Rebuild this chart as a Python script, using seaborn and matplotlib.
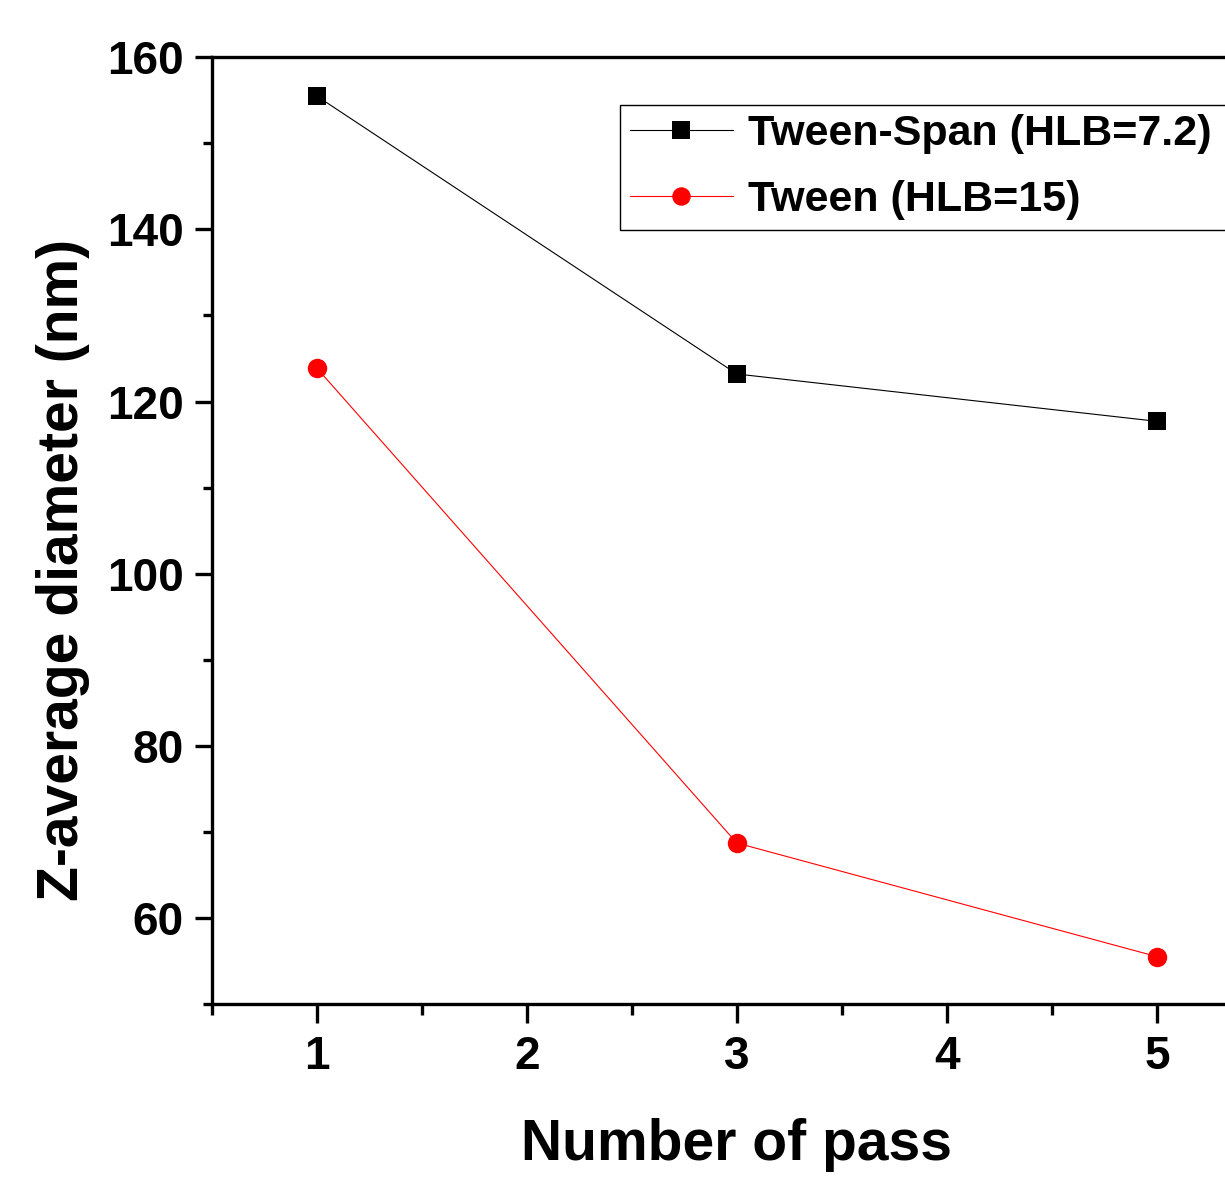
import numpy as np
import pandas as pd
import matplotlib
matplotlib.use("Agg")
import matplotlib.pyplot as plt
import seaborn as sns
from matplotlib import font_manager
from matplotlib.ticker import MultipleLocator

# ---- data ----
passes = [1, 3, 5]
tween_span = [155.5, 123.2, 117.7]
tween = [123.9, 68.7, 55.5]
series_names = ["Tween-Span (HLB=7.2)", "Tween (HLB=15)"]
series_colors = ["black", "red"]
series_markers = ["s", "o"]
x_ticks = [1, 2, 3, 4, 5]
y_ticks = [60, 80, 100, 120, 140, 160]
x_label = "Number of pass"
y_label = "Z-average diameter (nm)"

sns.set_theme(style="ticks")
names = {f.name for f in font_manager.fontManager.ttflist}
if "Liberation Sans Narrow" in names:
    fam = "Liberation Sans Narrow"
    fs_tick, fs_leg, fs_lab = 35, 36, 40
else:
    fam = "Liberation Sans"
    fs_tick, fs_leg, fs_lab = 33, 31, 41
plt.rcParams["font.family"] = [fam, "DejaVu Sans"]
plt.rcParams["font.weight"] = "bold"
plt.rcParams["text.color"] = "black"
plt.rcParams["axes.labelcolor"] = "black"

fig = plt.figure(figsize=(12.25, 11.81), dpi=100)
ax = fig.add_axes([0.1728, 0.1499, 0.8574, 0.8016])

df = pd.DataFrame({
    "pass": passes * 2,
    "diam": tween_span + tween,
    "series": [series_names[0]] * 3 + [series_names[1]] * 3,
})

for name, col, mk, ms in zip(series_names, series_colors, series_markers, [13, 14]):
    sub = df[df["series"] == name]
    sns.lineplot(data=sub, x="pass", y="diam", ax=ax, color=col, marker=mk,
                 markersize=ms, markeredgecolor=col, markeredgewidth=0,
                 linewidth=0.8, label=name)

ax.set_xlim(0.5, 5.5)
ax.set_ylim(50, 160)
ax.set_xticks(x_ticks)
ax.set_yticks(y_ticks)
ax.xaxis.set_minor_locator(MultipleLocator(0.5))
ax.yaxis.set_minor_locator(MultipleLocator(10))
ax.tick_params(axis="y", which="major", direction="out", length=12, width=2.4,
               labelsize=fs_tick, pad=8, color="black", labelcolor="black")
ax.tick_params(axis="y", which="minor", direction="out", length=6.5, width=2.4, color="black")
ax.tick_params(axis="x", which="major", direction="out", length=14, width=2.4,
               labelsize=fs_tick, pad=8, color="black", labelcolor="black")
ax.tick_params(axis="x", which="minor", direction="out", length=8, width=2.4, color="black")
for lab in ax.get_xticklabels() + ax.get_yticklabels():
    lab.set_fontweight("bold")
for sp in ax.spines.values():
    sp.set_visible(True)
    sp.set_linewidth(2.4)
    sp.set_color("black")

ax.set_xlabel(x_label, fontsize=fs_lab, fontweight="bold", color="black")
ax.set_ylabel(y_label, fontsize=fs_lab, fontweight="bold", color="black")
ax.xaxis.set_label_coords(0.5, -0.12)
ax.yaxis.set_label_coords(-0.116, 0.458)

leg = ax.legend(loc="upper left", bbox_to_anchor=(0.3888, 0.9496, 0.64, 0.0),
                mode="expand",
                borderaxespad=0, frameon=True, fancybox=False, shadow=False,
                prop={"family": [fam, "DejaVu Sans"], "weight": "bold", "size": fs_leg},
                handlelength=2.4, handletextpad=0.35, borderpad=0.22,
                labelspacing=0.6, markerscale=0.95)
for t in leg.get_texts():
    t.set_color("black")
leg.get_frame().set_edgecolor("black")
leg.get_frame().set_linewidth(1.0)
leg.get_frame().set_alpha(1)

fig.savefig("out.png", dpi=100)
